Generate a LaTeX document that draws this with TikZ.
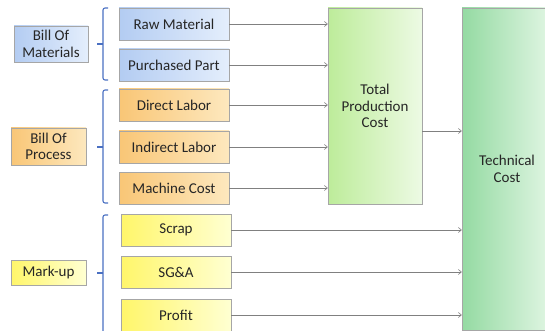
\documentclass[tikz,border=0pt]{standalone}
\usepackage{fontspec}
\setmainfont{Carlito}
\usetikzlibrary{arrows.meta}

\definecolor{bluelo}{HTML}{B3CCF2}
\definecolor{bluehi}{HTML}{E4EEFC}
\definecolor{orglo}{HTML}{F9C676}
\definecolor{orghi}{HTML}{FDE8BE}
\definecolor{yello}{HTML}{FFF66A}
\definecolor{yelhi}{HTML}{FFFFD2}
\definecolor{grnlo}{HTML}{BDEC9A}
\definecolor{grnhi}{HTML}{EDFAE4}
\definecolor{teallo}{HTML}{94DAA2}
\definecolor{tealhi}{HTML}{E2F6E4}
\definecolor{bracecol}{HTML}{4A70C2}
\definecolor{txtcol}{HTML}{262626}

\tikzset{
  box/.style={rectangle, draw=black!35, align=center, text=txtcol,
              font=\fontsize{15}{16.5}\selectfont},
  bluebox/.style={box, left color=bluelo, right color=bluehi},
  orgbox/.style={box, left color=orglo, right color=orghi},
  yelbox/.style={box, left color=yello, right color=yelhi},
  item/.style={minimum width=110pt, minimum height=32pt},
  arr/.style={-{Straight Barb[length=3pt,width=5pt]}, black!50, line width=0.6pt},
  brace/.style={bracecol, line width=1.1pt, rounded corners=2pt},
}

\begin{document}
\begin{tikzpicture}[x=1pt, y=-1pt]
  \clip (0,0) rectangle (545,331);
  % groups on the left
  \node[bluebox, minimum width=74pt, minimum height=36pt] (bom) at (51,44) {Bill Of\\Materials};
  \node[orgbox, minimum width=75pt, minimum height=37pt] (bop) at (48.5,146.5) {Bill Of\\Process};
  \node[yelbox, minimum width=75pt, minimum height=25pt] (markup) at (48.5,272.5) {Mark-up};

  % braces
  \draw[brace] (108,8) -- (103,8) -- (103,80) -- (108,80);
  \draw[brace] (103,44) -- (97,44);
  \draw[brace] (108,90) -- (103,90) -- (103,203) -- (108,203);
  \draw[brace] (103,147) -- (97,147);
  \draw[brace] (108,215) -- (103,215) -- (103,340) -- (108,340);
  \draw[brace] (103,273) -- (97,273);

  % cost items
  \node[bluebox, item] (rawmat) at (174,24) {Raw Material};
  \node[bluebox, item] (purch) at (174,65) {Purchased Part};
  \node[orgbox, item] (dirlab) at (174,105) {Direct Labor};
  \node[orgbox, item] (indlab) at (174,147) {Indirect Labor};
  \node[orgbox, item] (machine) at (174,188) {Machine Cost};
  \node[yelbox, item] (scrap) at (176,230) {Scrap};
  \node[yelbox, item] (sga) at (176,272) {SG\&A};
  \node[yelbox, item] (profit) at (176,315) {Profit};

  % totals
  \node[box, left color=grnlo, right color=grnhi, minimum width=94pt, minimum height=196pt]
    (tpc) at (375,106) {Total\\Production\\Cost};
  \node[box, left color=teallo, right color=tealhi, minimum width=90pt, minimum height=322pt]
    (tech) at (507,169) {Technical\\Cost};
  \coordinate (lvl) at (0,131);

  \foreach \n in {rawmat, purch, dirlab, indlab, machine}
    \draw[arr] (\n.east) -- (\n.east -| tpc.west);
  \foreach \n in {scrap, sga, profit}
    \draw[arr] (\n.east) -- (\n.east -| tech.west);
  \draw[arr] (tpc.east |- lvl) -- (tech.west |- lvl);
\end{tikzpicture}
\end{document}
